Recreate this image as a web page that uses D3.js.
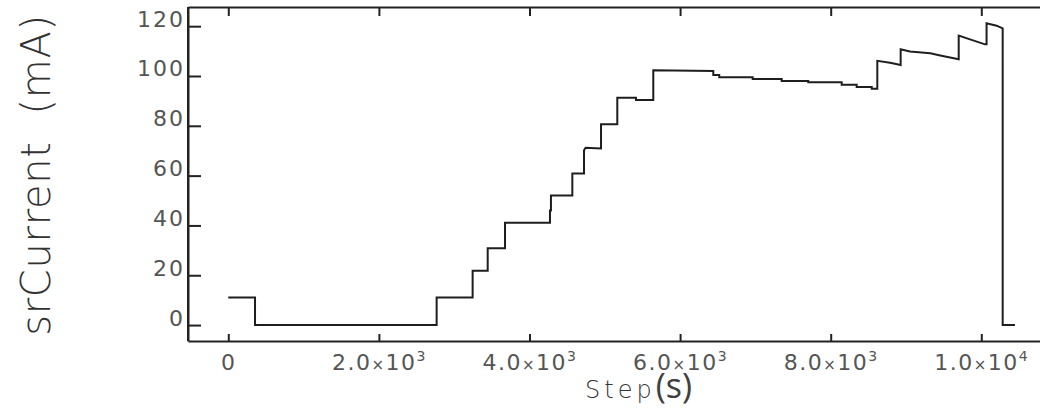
<!DOCTYPE html>
<html>
<head>
<meta charset="utf-8">
<script src="https://cdn.jsdelivr.net/npm/d3@7"></script>
<style>
  body { margin: 0; background: #fff; }
  .tick text { font-family: "DejaVu Sans"; font-weight: normal; fill: #555; }
</style>
</head>
<body>
<div class="graphics"></div>
<script>
// step (s) and srCurrent (mA) at each vertex of the trace
var steps = [0, 355, 355, 2767, 2767, 3245, 3245, 3445, 3445, 3675, 3675, 4272, 4272, 4285, 4285,
  4569, 4569, 4724, 4724, 4745, 4950, 4950, 5166, 5166, 5414, 5414, 5644, 5644, 6441, 6441,
  6520, 6520, 6964, 6964, 7349, 7349, 7702, 7702, 8146, 8146, 8345, 8345, 8545, 8545, 8619,
  8619, 8788, 8929, 8929, 9053, 9323, 9455, 9700, 9700, 10049, 10070, 10070, 10204, 10284,
  10284, 10447]
var current = [11.1, 11.1, 0, 0, 11.1, 11.1, 21.8, 21.8, 30.8, 30.8, 41.1, 41.1, 46, 46, 52,
  52, 60.9, 60.9, 70.2, 71.2, 70.9, 80.6, 80.6, 91.3, 91.3, 90.4, 90.4, 102.3, 102.0, 100.4,
  100.4, 99.5, 99.5, 98.8, 98.8, 98.0, 98.0, 97.5, 97.5, 96.5, 96.5, 95.6, 95.6, 94.9, 94.9,
  106.1, 105.3, 104.4, 110.7, 109.8, 109.1, 108.2, 106.7, 116.2, 112.7, 112.7, 121.2, 120.2, 119.1,
  0, 0]
var xTicks = [0, 2000, 4000, 6000, 8000, 10000]
var yTicks = [0, 20, 40, 60, 80, 100, 120]

var W = 1040, H = 410
var padL = 188, padT = 7, padR = 1045, padB = 341

var x = d3.scaleLinear().domain([-535, 10846]).range([padL, padR])
var y = d3.scaleLinear().domain([-6.4, 127.7]).range([padB, padT])

var svg = d3.select('.graphics').append('svg')
    .attr('width', W).attr('height', H)

var pts = steps.map(function(s, i){ return [s, current[i]] })

svg.append('path')
    .datum(pts)
    .attr('fill', 'none')
    .attr('stroke', '#1e1e1e')
    .attr('stroke-width', 2)
    .attr('d', d3.line().x(function(d){ return x(d[0]) }).y(function(d){ return y(d[1]) }))

// y axis, inward ticks, labels sit on the tick
var yAxis = svg.append('g')
    .attr('transform', 'translate(' + padL + ',0)')
    .call(d3.axisLeft(y).tickValues(yTicks).tickSizeInner(-13).tickSizeOuter(0).tickPadding(0))
yAxis.selectAll('.tick text')
    .attr('x', -3).attr('dy', 0)
    .style('font-size', '22px').style('letter-spacing', '2px')

// top ticks
svg.append('g')
    .attr('transform', 'translate(0,' + padT + ')')
    .call(d3.axisTop(x).tickValues(xTicks).tickSizeInner(-9).tickSizeOuter(0).tickFormat(''))

// bottom axis
var xAxis = svg.append('g')
    .attr('transform', 'translate(0,' + padB + ')')
    .call(d3.axisBottom(x).tickValues(xTicks).tickSizeInner(-7).tickSizeOuter(0).tickFormat(''))

xAxis.selectAll('.tick').append('text')
    .attr('y', 29)
    .attr('text-anchor', 'middle')
    .style('font-size', '22px')
    .style('letter-spacing', '1.5px')
    .each(function(d){
        var t = d3.select(this)
        if (d === 0) { t.text('0'); return }
        var e = Math.floor(Math.log10(d))
        var m = (d / Math.pow(10, e)).toFixed(1)
        t.append('tspan').text(m)
        t.append('tspan').text('×').style('font-size', '15px')
        t.append('tspan').text('10')
        t.append('tspan').text(e).style('font-size', '14px').attr('dy', -9)
    })

svg.selectAll('.domain').attr('stroke', '#222').attr('stroke-width', 2)
svg.selectAll('.tick line').attr('stroke', '#222').attr('stroke-width', 2)

svg.append('line')
    .attr('x1', padL).attr('x2', padL).attr('y1', padT).attr('y2', padB)
    .attr('stroke', '#222').attr('stroke-width', 2)

// axis titles
svg.append('text')
    .attr('transform', 'translate(50,175) rotate(-90)')
    .attr('text-anchor', 'middle')
    .attr('xml:space', 'preserve')
    .style('font-family', 'DejaVu Sans').style('font-weight', 200)
    .style('font-size', '40px').style('letter-spacing', '0.7px')
    .attr('fill', '#333')
    .text('srCurrent  (mA)')

var xt = svg.append('text')
    .attr('x', 585).attr('y', 398)
    .attr('fill', '#333')
xt.append('tspan').text('Step')
    .style('font-family', 'DejaVu Sans').style('font-weight', 200)
    .style('font-size', '24px').style('letter-spacing', '4px')
xt.append('tspan').text('(s)')
    .attr('fill', '#404040')
    .style('font-family', 'Open Sans')
    .style('font-size', '34px')
</script>
</body>
</html>
